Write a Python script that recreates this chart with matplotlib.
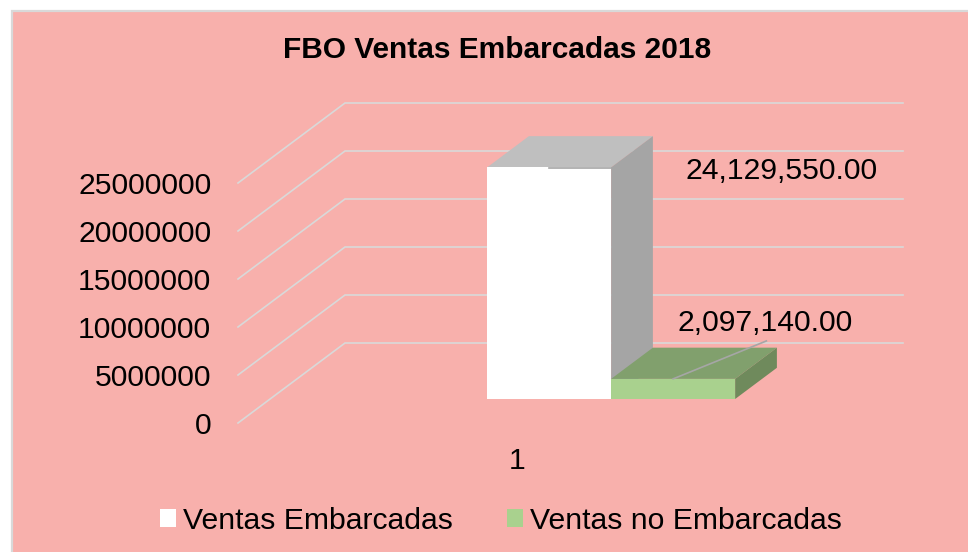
import matplotlib
matplotlib.use("Agg")
import matplotlib.pyplot as plt
from matplotlib.patches import Rectangle, Polygon, Patch

plt.rcParams['font.family'] = ['Liberation Sans', 'DejaVu Sans']

title = "FBO Ventas Embarcadas 2018"
categories = [1]
series_names = ["Ventas Embarcadas", "Ventas no Embarcadas"]
series_values = [24129550.00, 2097140.00]
value_labels = ["24,129,550.00", "2,097,140.00"]
y_ticks = [0, 5000000, 10000000, 15000000, 20000000, 25000000]

W, H = 968, 552
BG = "#F8B0AC"
GRID = "#D9D9D9"
FS = 21.7

fig = plt.figure(figsize=(W / 100, H / 100), dpi=100, facecolor="white")
fig.patches.append(Rectangle((11.5 / W, -0.02), 1.02, 1.02 - 11 / H, transform=fig.transFigure,
                             facecolor=BG, edgecolor=GRID, linewidth=1.6, zorder=-5))

ax = fig.add_axes([238 / W, 1 - 423 / H, (796 - 238) / W, (423 - 183) / H])
ax.patch.set_visible(False)
for s in ax.spines.values():
    s.set_visible(False)
ax.set_xlim(0.5, 1.5)
ax.set_ylim(0, 25000000)
ax.set_yticks(y_ticks)
ax.set_yticklabels([str(t) for t in y_ticks], va="center")
ax.set_xticks(categories)
ax.set_xticklabels([str(c) for c in categories])
ax.tick_params(axis="y", length=0, pad=19.2, labelsize=FS)
ax.tick_params(axis="x", length=0, pad=17, labelsize=FS)
for lab in ax.get_yticklabels():
    lab.set_y(lab.get_position()[1])
    lab.set_verticalalignment("center_baseline")

# oblique projection of the 3-D column chart: depth 0 = front of floor, 1 = back wall
DX = 107 / 558
DY = 80 * 5000000 / 48


def proj(x, v, d):
    return (x + d * DX, v + d * DY)


def face(points, color, z):
    ax.add_patch(Polygon([proj(*p) for p in points], closed=True, facecolor=color,
                         edgecolor="none", clip_on=False, zorder=z))


# walls / gridlines
for t in y_ticks:
    xs, ys = zip(proj(0.5, t, 0), proj(0.5, t, 1), proj(1.5, t, 1))
    ax.plot(xs, ys, color=GRID, lw=1.2, clip_on=False, zorder=1, solid_joinstyle="miter")

bar_left = 0.889
bar_w = 124 / 558
d0, d1 = 0.30, 0.69
colors = [("#FFFFFF", "#BFBFBF", "#A5A5A5"), ("#A9D18E", "#81A06D", "#6F8A5C")]

for i, (val, (front, top, side)) in enumerate(zip(series_values, colors)):
    a = bar_left + i * bar_w
    b = a + bar_w
    z = 3 + i
    face([(a, 0, d0), (b, 0, d0), (b, val, d0), (a, val, d0)], front, z + 0.2)
    face([(a, val, d0), (b, val, d0), (b, val, d1), (a, val, d1)], top, z)
    face([(b, 0, d0), (b, 0, d1), (b, val, d1), (b, val, d0)], side, z + 0.1)

# leader lines and data labels
LEADER = "#A6A6A6"
a0 = bar_left + 0.5 * bar_w
xs, ys = zip(proj(a0, series_values[0] - 100000, d0), proj(a0 + 0.176, series_values[0] - 100000, d0))
ax.plot(xs, ys, color=LEADER, lw=1.2, clip_on=False, zorder=6)
a1 = bar_left + 1.5 * bar_w
xs, ys = zip(proj(a1, series_values[1], d0), proj(a1 + 0.167, series_values[1] + 3950000, d0))
ax.plot(xs, ys, color=LEADER, lw=1.2, clip_on=False, zorder=6)

ax.annotate(value_labels[0], xy=proj(bar_left, series_values[0], d0), xytext=(294 * 0.72, -4 * 0.72),
            textcoords="offset points", ha="center", va="center", fontsize=FS, color="black",
            annotation_clip=False, zorder=7)
ax.annotate(value_labels[1], xy=proj(bar_left + bar_w, series_values[1], d0), xytext=(154 * 0.72, 56 * 0.72),
            textcoords="offset points", ha="center", va="center", fontsize=FS, color="black",
            annotation_clip=False, zorder=7)

fig.text(497 / W, 1 - 50 / H, title, ha="center", va="center", fontsize=21.55, fontweight="bold", color="black")

handles = [Patch(facecolor=colors[i][0], edgecolor="none", label=series_names[i]) for i in range(2)]
fig.legend(handles=handles, loc="center", bbox_to_anchor=(501 / W, 1 - 521 / H), ncol=2, frameon=False,
           fontsize=FS, handlelength=0.535, handleheight=0.535, handletextpad=0.23, columnspacing=1.78,
           borderpad=0, borderaxespad=0)

fig.savefig("out.png", dpi=100, facecolor="white")
